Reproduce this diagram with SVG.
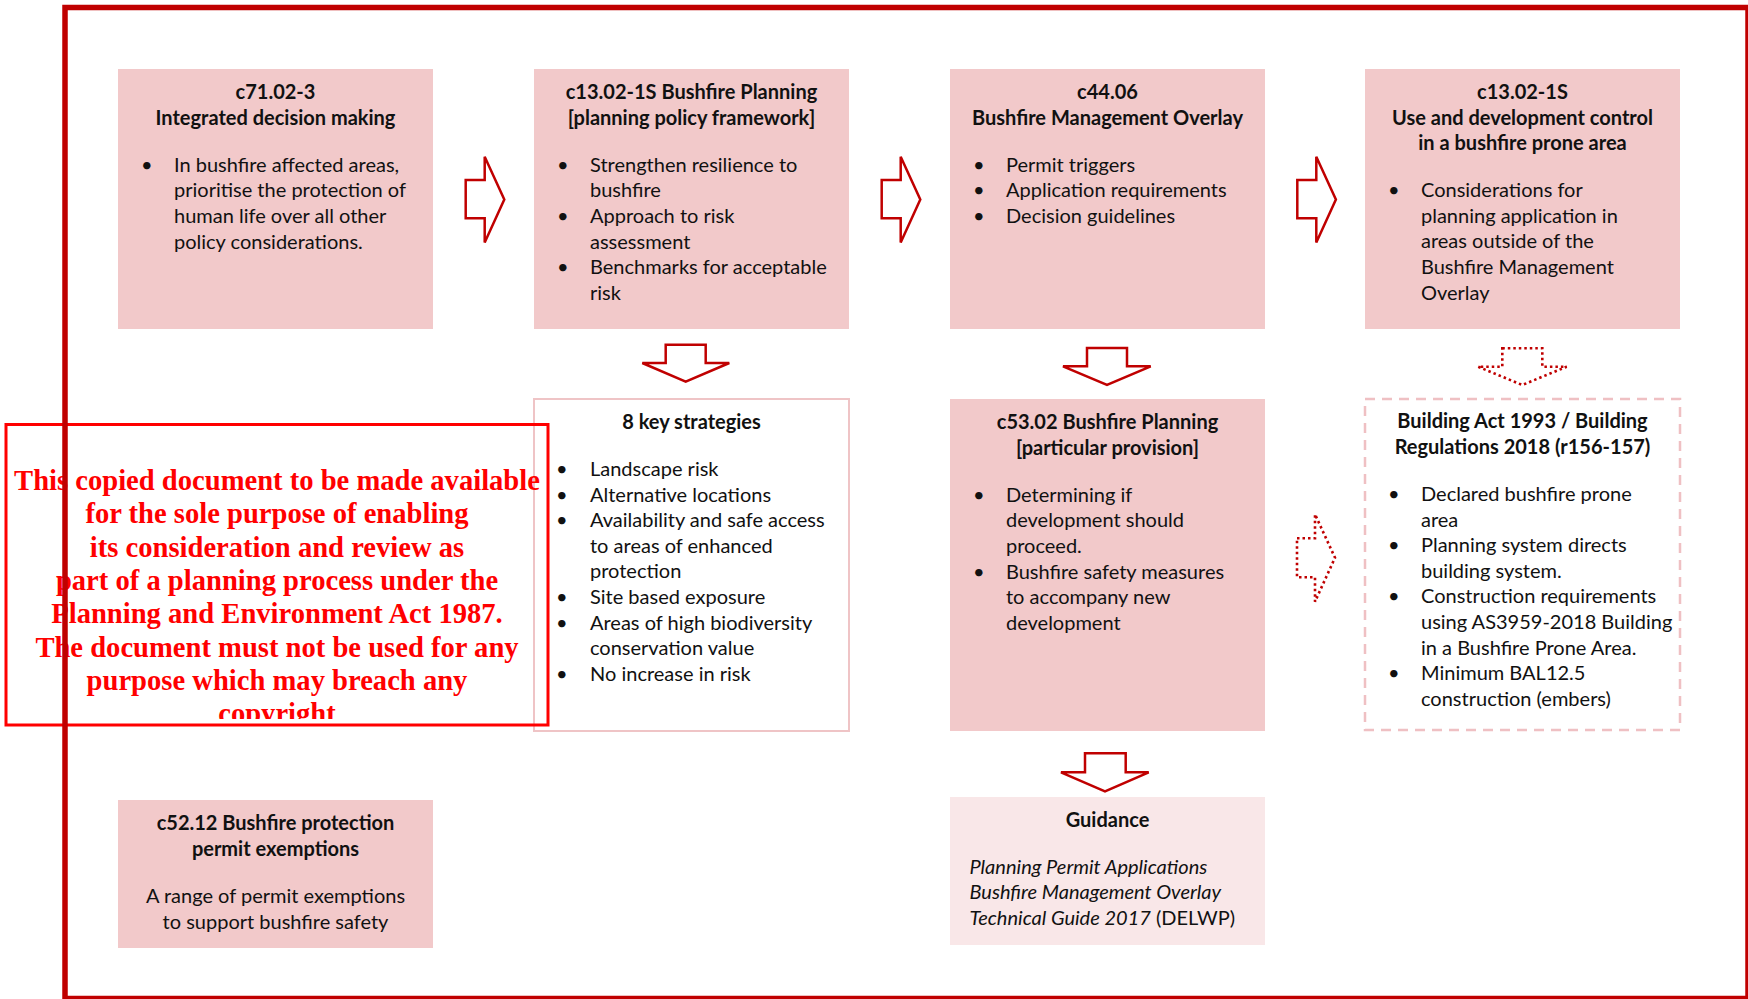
<svg xmlns="http://www.w3.org/2000/svg" width="1748" height="999" viewBox="0 0 1748 999">
<defs>
<style>
text{font-family:Lato,"Open Sans","Liberation Sans",sans-serif;font-size:20px;fill:#111}
.h{font-weight:bold;text-anchor:middle}
.c{text-anchor:middle}
.i{font-style:italic}
.box{fill:#F2C9CA}
.lite{fill:#F9E7E8}
.outl{fill:#fff;stroke:#EFC4C6;stroke-width:2}
.dash{fill:#fff;stroke:#EFC0C3;stroke-width:2.5;stroke-dasharray:10 7}
.arr{fill:#fff;stroke:#C00000;stroke-width:2.5;stroke-linejoin:miter}
.dot{fill:none;stroke:#C00000;stroke-width:2.6;stroke-dasharray:2.5 3}
.wm{font-family:"Liberation Serif","Times New Roman",serif;font-weight:bold;font-size:28.6px;fill:#FF0000;text-anchor:middle}
</style>
<clipPath id="wmclip"><rect x="8" y="426" width="538" height="293"/></clipPath>
</defs>
<rect width="1748" height="999" fill="#fff"/>

<g id="n-c71">
<rect class="box" x="118" y="69" width="315" height="260"/>
<text class="h" x="275.5" y="99">c71.02-3</text>
<text class="h" x="275.5" y="124.5">Integrated decision making</text>
<text x="141" y="171.7">•</text>
<text x="174" y="171.7">In bushfire affected areas,</text>
<text x="174" y="197.3">prioritise the protection of</text>
<text x="174" y="223">human life over all other</text>
<text x="174" y="248.6">policy considerations.</text>
</g>

<g id="n-c1302-framework">
<rect class="box" x="534" y="69" width="315" height="260"/>
<text class="h" x="691.5" y="99">c13.02-1S Bushfire Planning</text>
<text class="h" x="691.5" y="124.5">[planning policy framework]</text>
<text x="557" y="171.7">•</text>
<text x="590" y="171.7">Strengthen resilience to</text>
<text x="590" y="197.3">bushfire</text>
<text x="557" y="223">•</text>
<text x="590" y="223">Approach to risk</text>
<text x="590" y="248.6">assessment</text>
<text x="557" y="274.2">•</text>
<text x="590" y="274.2">Benchmarks for acceptable</text>
<text x="590" y="299.8">risk</text>
</g>

<g id="n-c4406">
<rect class="box" x="950" y="69" width="315" height="260"/>
<text class="h" x="1107.5" y="99">c44.06</text>
<text class="h" x="1107.5" y="124.5">Bushfire Management Overlay</text>
<text x="973" y="171.7">•</text>
<text x="1006" y="171.7">Permit triggers</text>
<text x="973" y="197.3">•</text>
<text x="1006" y="197.3">Application requirements</text>
<text x="973" y="223">•</text>
<text x="1006" y="223">Decision guidelines</text>
</g>

<g id="n-c1302-control">
<rect class="box" x="1365" y="69" width="315" height="260"/>
<text class="h" x="1522.5" y="99">c13.02-1S</text>
<text class="h" x="1522.5" y="124.5">Use and development control</text>
<text class="h" x="1522.5" y="150">in a bushfire prone area</text>
<text x="1388" y="197.3">•</text>
<text x="1421" y="197.3">Considerations for</text>
<text x="1421" y="222.8">planning application in</text>
<text x="1421" y="248.4">areas outside of the</text>
<text x="1421" y="274">Bushfire Management</text>
<text x="1421" y="299.6">Overlay</text>
</g>

<g id="n-strategies">
<rect class="outl" x="534" y="399" width="315" height="332"/>
<text class="h" x="691.5" y="429.3">8 key strategies</text>
<text x="556" y="476">•</text>
<text x="590" y="476">Landscape risk</text>
<text x="556" y="501.5">•</text>
<text x="590" y="501.5">Alternative locations</text>
<text x="556" y="527.1">•</text>
<text x="590" y="527.1">Availability and safe access</text>
<text x="590" y="552.7">to areas of enhanced</text>
<text x="590" y="578.3">protection</text>
<text x="556" y="603.9">•</text>
<text x="590" y="603.9">Site based exposure</text>
<text x="556" y="629.5">•</text>
<text x="590" y="629.5">Areas of high biodiversity</text>
<text x="590" y="655.1">conservation value</text>
<text x="556" y="680.7">•</text>
<text x="590" y="680.7">No increase in risk</text>
</g>

<g id="n-c5302">
<rect class="box" x="950" y="399" width="315" height="332"/>
<text class="h" x="1107.5" y="429.3">c53.02 Bushfire Planning</text>
<text class="h" x="1107.5" y="454.8">[particular provision]</text>
<text x="973" y="501.7">•</text>
<text x="1006" y="501.7">Determining if</text>
<text x="1006" y="527.3">development should</text>
<text x="1006" y="552.9">proceed.</text>
<text x="973" y="578.5">•</text>
<text x="1006" y="578.5">Bushfire safety measures</text>
<text x="1006" y="604.1">to accompany new</text>
<text x="1006" y="629.7">development</text>
</g>

<g id="n-building">
<rect class="dash" x="1365" y="399" width="315" height="331"/>
<text class="h" x="1522.5" y="428.3">Building Act 1993 / Building</text>
<text class="h" x="1522.5" y="453.6">Regulations 2018 (r156-157)</text>
<text x="1388" y="501">•</text>
<text x="1421" y="501">Declared bushfire prone</text>
<text x="1421" y="526.5">area</text>
<text x="1388" y="552.1">•</text>
<text x="1421" y="552.1">Planning system directs</text>
<text x="1421" y="577.7">building system.</text>
<text x="1388" y="603.3">•</text>
<text x="1421" y="603.3">Construction requirements</text>
<text x="1421" y="628.9">using AS3959-2018 Building</text>
<text x="1421" y="654.5">in a Bushfire Prone Area.</text>
<text x="1388" y="680.1">•</text>
<text x="1421" y="680.1">Minimum BAL12.5</text>
<text x="1421" y="705.7">construction (embers)</text>
</g>

<g id="n-c5212">
<rect class="box" x="118" y="800" width="315" height="148"/>
<text class="h" x="275.5" y="830">c52.12 Bushfire protection</text>
<text class="h" x="275.5" y="855.5">permit exemptions</text>
<text class="c" x="275.5" y="903">A range of permit exemptions</text>
<text class="c" x="275.5" y="928.5">to support bushfire safety</text>
</g>

<g id="n-guidance">
<rect class="lite" x="950" y="797" width="315" height="148"/>
<text class="h" x="1107.5" y="826.7">Guidance</text>
<text class="i" x="969.5" y="873.5">Planning Permit Applications</text>
<text class="i" x="969.5" y="899.2">Bushfire Management Overlay</text>
<text x="969.5" y="924.8"><tspan class="i">Technical Guide 2017</tspan> (DELWP)</text>
</g>

<g id="connectors">
<path class="arr" d="M465.7,180 H484.7 V156.7 L504.3,199.5 L484.7,242.5 V218.3 H465.7 Z"/>
<path class="arr" d="M881.7,180 H900.7 V156.7 L920.3,199.5 L900.7,242.5 V218.3 H881.7 Z"/>
<path class="arr" d="M1297.3,180 H1316.3 V156.7 L1335.9,199.5 L1316.3,242.5 V218.3 H1297.3 Z"/>
<path class="arr" d="M665.7,344.7 H705.7 V363 H729.3 L685.7,381.7 L642.3,363 H665.7 Z"/>
<path class="arr" d="M1087,348 H1127 V366.3 H1150.7 L1107,385 L1063,366.3 H1087 Z"/>
<path class="arr" d="M1085,753.3 H1125.7 V772.3 H1148.7 L1105,791.3 L1061,772.3 H1085 Z"/>
<path class="dot" d="M1502.3,348.3 H1542.3 V366.7 H1566.7 L1522.3,385 L1478,366.7 H1502.3 Z"/>
<path class="dot" d="M1297,538.3 H1315 V514.3 L1335,557.7 L1315,601.7 V577.3 H1297 Z"/>
</g>

<g id="watermark">
<rect x="6" y="424.5" width="542" height="300.5" fill="none" stroke="#FF0000" stroke-width="3"/>
<g clip-path="url(#wmclip)">
<text class="wm" x="277" y="490">This copied document to be made available</text>
<text class="wm" x="277" y="523.3">for the sole purpose of enabling</text>
<text class="wm" x="277" y="556.7">its consideration and review as</text>
<text class="wm" x="277" y="590">part of a planning process under the</text>
<text class="wm" x="277" y="623.3">Planning and Environment Act 1987.</text>
<text class="wm" x="277" y="656.7">The document must not be used for any</text>
<text class="wm" x="277" y="690">purpose which may breach any</text>
<text class="wm" x="277" y="723.3">copyright</text>
</g>
</g>

<g id="frame">
<rect x="65" y="7.5" width="1683" height="991" fill="none" stroke="#C00000" stroke-width="5.5"/>
</g>
</svg>
